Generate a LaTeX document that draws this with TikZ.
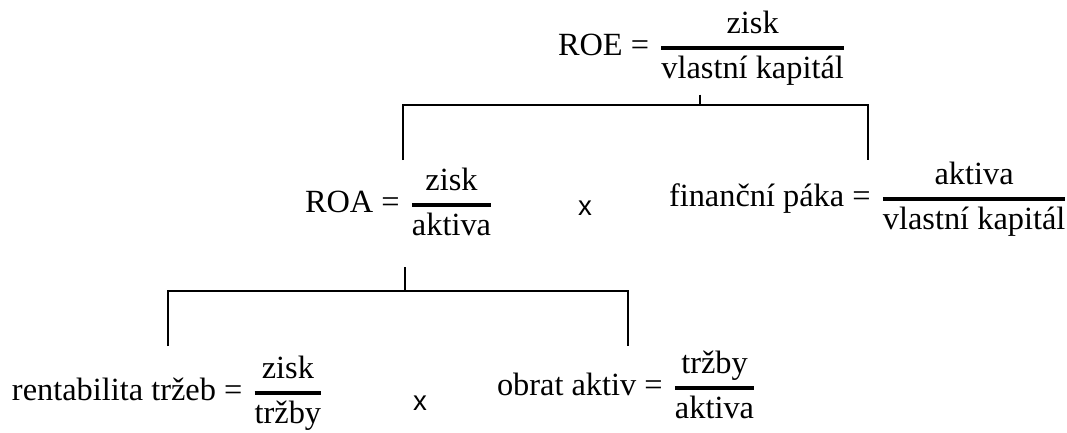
\documentclass[tikz,border=0pt]{standalone}
\usepackage{fontspec}
\setmainfont{Liberation Serif}
\newfontfamily\znakfont{Liberation Sans}
\usetikzlibrary{positioning}

% fraction with a thick bar, centred on the axis
\newcommand{\zlomek}[2]{{\setlength{\arrayrulewidth}{1.4pt}\begin{tabular}{@{}c@{}}#1\\\hline #2\end{tabular}}}

\begin{document}
\begin{tikzpicture}[
    x=0.38pt, y=-0.38pt,
    vzorec/.style={inner sep=0pt, outer sep=0pt, anchor=west, font=\fontsize{12.3}{15.5}\selectfont},
    krat/.style={inner sep=0pt, outer sep=0pt, font=\znakfont\fontsize{10.5}{12}\selectfont},
    vetev/.style={line width=0.4pt}
]
\useasboundingbox (0,0) rectangle (1067,432);

\node[vzorec] (roe) at (558,48) {ROE =\hspace{.38em}\zlomek{zisk}{vlastní kapitál}};
\node[vzorec] (roa) at (305,205) {ROA =\hspace{.38em}\zlomek{zisk}{aktiva}};
\node[krat] (x1) at (585,208) {x};
\node[vzorec] (paka) at (669,199) {finanční páka =\hspace{.38em}\zlomek{aktiva}{vlastní kapitál}};
\node[vzorec] (rent) at (12,393) {rentabilita tržeb =\hspace{.38em}\zlomek{zisk}{tržby}};
\node[krat] (x2) at (420,403) {x};
\node[vzorec] (obrat) at (497,388) {obrat aktiv =\hspace{.38em}\zlomek{tržby}{aktiva}};

\coordinate (split1) at (700,105);
\coordinate (roaLeg) at (403,160);
\coordinate (pakaLeg) at (868,160);
\coordinate (split2) at (405,291);
\coordinate (rentLeg) at (168,346);
\coordinate (obratLeg) at (628,346);

\draw[vetev, shorten <=1.5pt] (roe.south -| split1) -- (split1);
\draw[vetev] (roaLeg) -- (roaLeg |- split1) -- (pakaLeg |- split1) -- (pakaLeg);

\draw[vetev, shorten <=7.5pt] (roa.south -| split2) -- (split2);
\draw[vetev] (rentLeg) -- (rentLeg |- split2) -- (obratLeg |- split2) -- (obratLeg);

\end{tikzpicture}
\end{document}
